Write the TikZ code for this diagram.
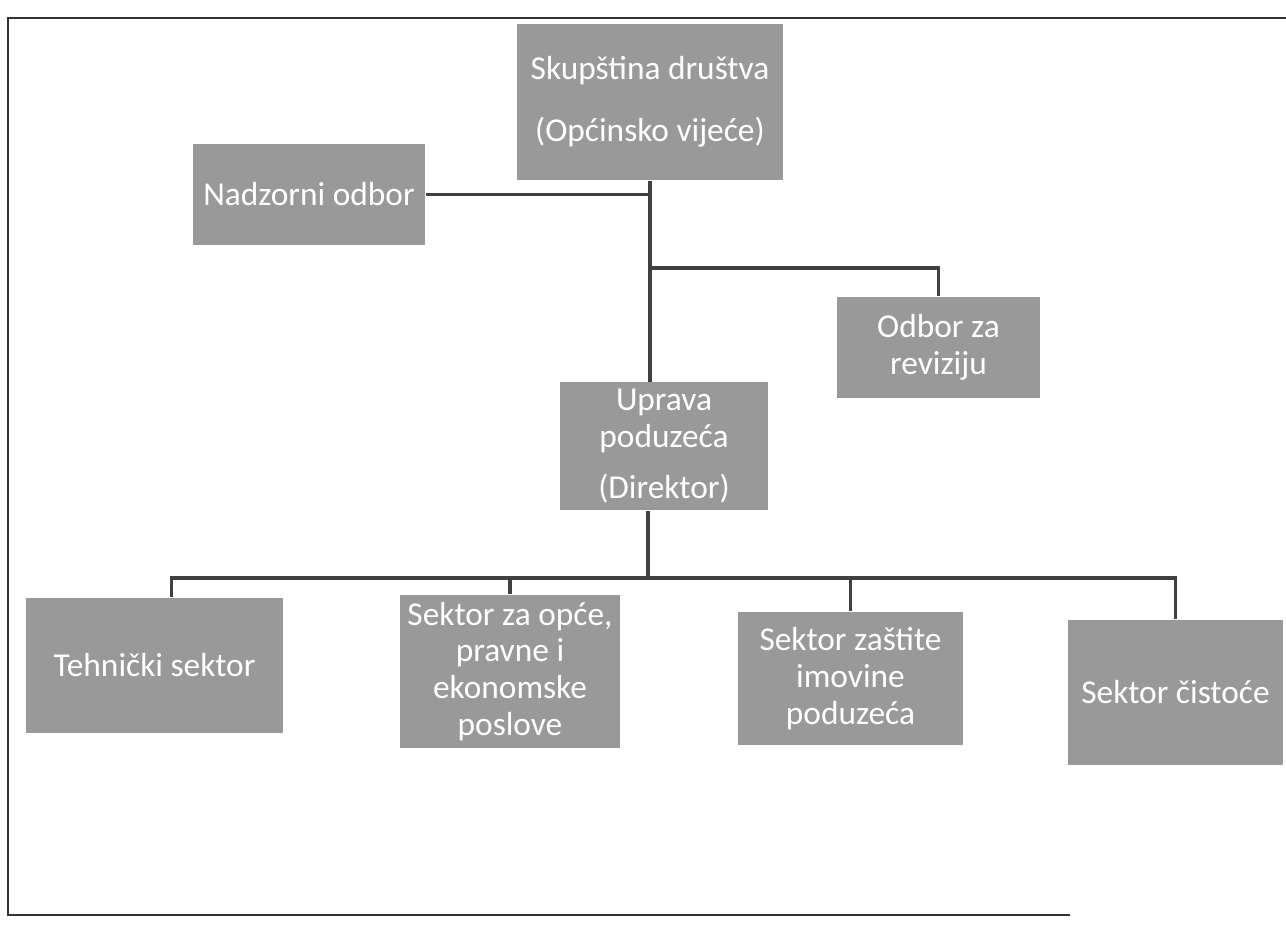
\documentclass[tikz,border=0pt]{standalone}
\usepackage{fontspec}
\setmainfont{Carlito}
\usepackage{tikz}
\usetikzlibrary{positioning}

\begin{document}
\begin{tikzpicture}[
    box/.style={rectangle, fill=black!40, text=white, align=center, inner sep=2pt, font=\fontsize{9.5}{10.5}\selectfont},
    line/.style={draw=black!75, line width=1pt}
]
\useasboundingbox (0,0) rectangle (12.86,9.30);

% Frame of the scanned page
\draw[black!80, line width=0.6pt] (12.86,9.12) -- (0.08,9.12) -- (0.08,0.15) -- (10.70,0.15);

% Top level
\node[box, minimum width=2.66cm, minimum height=1.56cm] (skup) at (6.50,8.28) {Skupština društva\\[7pt](Općinsko vijeće)};
\node[box, minimum width=2.32cm, minimum height=1.01cm] (nadz) at (3.09,7.355) {Nadzorni odbor};
\node[box, minimum width=2.03cm, minimum height=1.01cm] (reviz) at (9.385,5.825) {Odbor za\\reviziju};

% Management
\node[box, minimum width=2.08cm, minimum height=1.07cm] (uprava) at (6.64,4.835) {Uprava\\poduzeća\\[4pt](Direktor)};

% Sectors
\node[box, minimum width=2.57cm, minimum height=1.35cm] (teh) at (1.545,2.645) {Tehnički sektor};
\node[box, minimum width=2.20cm, minimum height=1.37cm] (opce) at (5.10,2.585) {Sektor za opće,\\pravne i\\ekonomske\\poslove};
\node[box, minimum width=2.25cm, minimum height=1.33cm] (zast) at (8.505,2.515) {Sektor zaštite\\imovine\\poduzeća};
\node[box, minimum width=2.15cm, minimum height=1.45cm] (cist) at (11.755,2.375) {Sektor čistoće};

% Connectors
\coordinate (trunk) at (6.50,6.62);
\coordinate (bus) at (6.48,3.52);
\draw[line] (skup.south) -- (skup.south |- uprava.north);
\draw[line] (nadz.east) -- (nadz.east -| skup.south);
\draw[line] (trunk) -| (reviz.north);
\draw[line] (uprava.south -| bus) -- (bus);
\draw[line] (bus) -| ([xshift=1.7mm]teh.north);
\foreach \n in {opce, zast, cist}
    \draw[line] (bus) -| (\n.north);

\end{tikzpicture}
\end{document}
